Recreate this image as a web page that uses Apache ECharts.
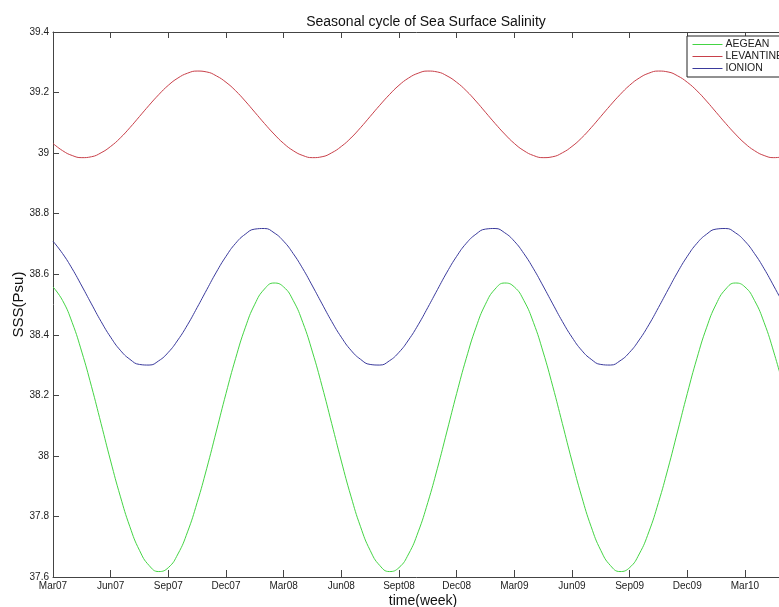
<!DOCTYPE html>
<html>
<head>
<meta charset="utf-8">
<script src="https://cdn.jsdelivr.net/npm/echarts@6/dist/echarts.min.js"></script>
<style>html,body{margin:0;padding:0;background:#fff;}#c{width:779px;height:607px;}</style>
</head>
<body>
<div id="c"></div>
<script>
// time in months since Mar07 (half-month steps)
const months = [0,0.5,1,1.5,2,2.5,3,3.5,4,4.5,5,5.5,6,6.5,7,7.5,8,8.5,9,9.5,10,10.5,11,11.5,
12,12.5,13,13.5,14,14.5,15,15.5,16,16.5,17,17.5,18,18.5,19,19.5,20,20.5,21,21.5,22,22.5,23,23.5,
24,24.5,25,25.5,26,26.5,27,27.5,28,28.5,29,29.5,30,30.5,31,31.5,32,32.5,33,33.5,34,34.5,35,35.5,
36,36.5,37,37.5,38];

const aegean = [38.558,38.513,38.440,38.343,38.230,38.107,37.983,37.867,37.766,37.688,37.638,37.618,37.631,37.676,37.749,37.846,37.959,38.082,38.206,38.322,38.423,38.501,38.551,38.571,
38.558,38.513,38.440,38.343,38.230,38.107,37.983,37.867,37.766,37.688,37.638,37.618,37.631,37.676,37.749,37.846,37.959,38.082,38.206,38.322,38.423,38.501,38.551,38.571,
38.558,38.513,38.440,38.343,38.230,38.107,37.983,37.867,37.766,37.688,37.638,37.618,37.631,37.676,37.749,37.846,37.959,38.082,38.206,38.322,38.423,38.501,38.551,38.571,
38.558,38.513,38.440,38.343,38.230];

const levantine = [39.032,39.008,38.992,38.985,38.988,39.001,39.022,39.050,39.084,39.121,39.158,39.193,39.224,39.248,39.264,39.271,39.268,39.255,39.234,39.206,39.172,39.135,39.098,39.063,
39.032,39.008,38.992,38.985,38.988,39.001,39.022,39.050,39.084,39.121,39.158,39.193,39.224,39.248,39.264,39.271,39.268,39.255,39.234,39.206,39.172,39.135,39.098,39.063,
39.032,39.008,38.992,38.985,38.988,39.001,39.022,39.050,39.084,39.121,39.158,39.193,39.224,39.248,39.264,39.271,39.268,39.255,39.234,39.206,39.172,39.135,39.098,39.063,
39.032,39.008,38.992,38.985,38.988];

const ionion = [38.709,38.668,38.618,38.561,38.502,38.444,38.392,38.349,38.319,38.302,38.300,38.314,38.342,38.383,38.433,38.490,38.549,38.607,38.659,38.702,38.732,38.749,38.751,38.737,
38.709,38.668,38.618,38.561,38.502,38.444,38.392,38.349,38.319,38.302,38.300,38.314,38.342,38.383,38.433,38.490,38.549,38.607,38.659,38.702,38.732,38.749,38.751,38.737,
38.709,38.668,38.618,38.561,38.502,38.444,38.392,38.349,38.319,38.302,38.300,38.314,38.342,38.383,38.433,38.490,38.549,38.607,38.659,38.702,38.732,38.749,38.751,38.737,
38.709,38.668,38.618,38.561,38.502];

const xTickLabels = ['Mar07','Jun07','Sep07','Dec07','Mar08','Jun08','Sept08','Dec08','Mar09','Jun09','Sep09','Dec09','Mar10'];
const yTickLabels = ['37.6','37.8','38','38.2','38.4','38.6','38.8','39','39.2','39.4'];
const seriesNames = ['AEGEAN','LEVANTINE','IONION'];
const seriesColors = ['#44d444','#c8404a','#3a3a9c'];

const FONT = 'Liberation Sans, Arial, sans-serif';
const TXT = '#222';
const AX = '#444';

const chart = echarts.init(document.getElementById('c'), null, {renderer:'canvas'});
const pair = arr => months.map((m,i)=>[m, arr[i]]);

chart.setOption({
  animation:false,
  backgroundColor:'#fff',
  title:{
    text:'Seasonal cycle of Sea Surface Salinity',
    left:421, top:10, textAlign:'center',
    textStyle:{fontFamily:FONT, fontSize:14, fontWeight:'normal', color:'#111'}
  },
  legend:{
    orient:'vertical', left:687, top:36,
    padding:[3,6,3,5], itemGap:1, itemWidth:30, itemHeight:13,
    borderColor:'#222', borderWidth:1, backgroundColor:'#fff',
    itemStyle:{opacity:0},
    lineStyle:{width:1},
    textStyle:{fontFamily:FONT, fontSize:10.5, color:TXT, padding:[0,0,0,-2]},
    data:seriesNames
  },
  grid:{left:53, top:32, width:740, height:545, containLabel:false, outerBoundsMode:'none'},
  xAxis:[{
    type:'value', min:0, max:38.5, interval:3,
    name:'time(week)', nameLocation:'middle', nameGap:17, nameMoveOverlap:false,
    nameTextStyle:{fontFamily:FONT, fontSize:14, color:'#111'},
    axisLine:{lineStyle:{color:AX, width:1}},
    axisTick:{inside:true, length:7, lineStyle:{color:AX}},
    axisLabel:{fontFamily:FONT, fontSize:10, color:TXT, margin:4,
      formatter:v=>{const i=Math.round(v/3); return (Math.abs(v-i*3)<1e-6 && xTickLabels[i])?xTickLabels[i]:'';}},
    splitLine:{show:false}
  },{
    type:'value', position:'top', min:0, max:38.5, interval:3,
    axisLine:{show:true, lineStyle:{color:AX, width:1}},
    axisTick:{show:true, inside:true, length:6, lineStyle:{color:AX}},
    axisLabel:{show:false}, splitLine:{show:false}
  }],
  yAxis:{
    type:'value', min:37.6, max:39.4, interval:0.2,
    name:'SSS(Psu)', nameLocation:'middle', nameGap:27, nameRotate:90, nameMoveOverlap:false,
    nameTextStyle:{fontFamily:FONT, fontSize:15, color:'#111'},
    axisLine:{show:true, lineStyle:{color:AX, width:1}},
    axisTick:{show:true, inside:true, length:6, lineStyle:{color:AX}},
    axisLabel:{fontFamily:FONT, fontSize:10, color:TXT, margin:4,
      formatter:v=>{const i=Math.round((v-37.6)/0.2); return yTickLabels[i]||'';}},
    splitLine:{show:false}
  },
  series:[
    {name:seriesNames[0], type:'line', data:pair(aegean), smooth:true, showSymbol:false, symbol:'none',
     lineStyle:{color:seriesColors[0], width:1}, itemStyle:{color:seriesColors[0]}},
    {name:seriesNames[1], type:'line', data:pair(levantine), smooth:true, showSymbol:false, symbol:'none',
     lineStyle:{color:seriesColors[1], width:1}, itemStyle:{color:seriesColors[1]}},
    {name:seriesNames[2], type:'line', data:pair(ionion), smooth:true, showSymbol:false, symbol:'none',
     lineStyle:{color:seriesColors[2], width:1}, itemStyle:{color:seriesColors[2]}}
  ]
});
</script>
</body>
</html>
